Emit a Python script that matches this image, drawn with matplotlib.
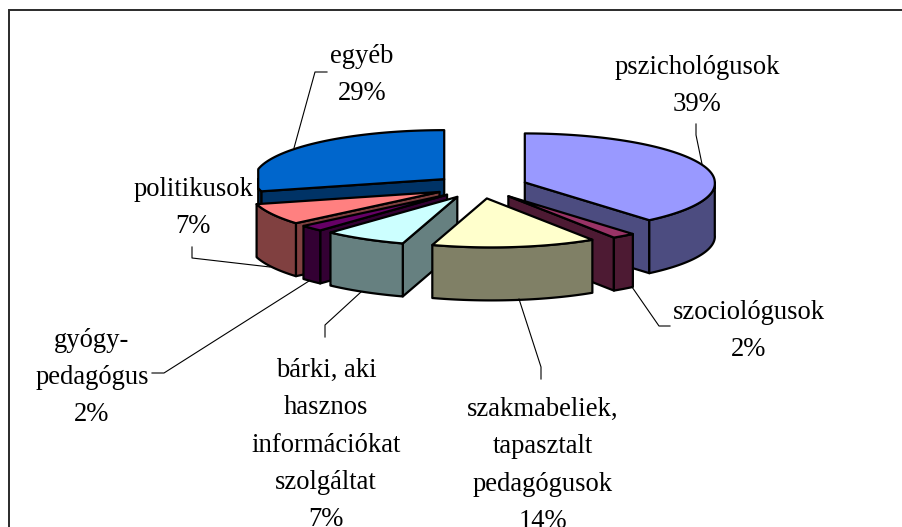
import numpy as np
import matplotlib
matplotlib.use("Agg")
import matplotlib.pyplot as plt
from matplotlib.patches import Polygon

plt.rcParams["font.family"] = ["Liberation Serif", "DejaVu Serif"]

# data, clockwise from the top
categories = ["pszichológusok", "szociológusok", "szakmabeliek,\ntapasztalt\npedagógusok",
              "bárki, aki\nhasznos\ninformációkat\nszolgáltat", "gyógy-\npedagógus",
              "politikusok", "egyéb"]
values = [39, 2, 14, 7, 2, 7, 29]
top_colors = ["#9999FF", "#993366", "#FFFFCC", "#CCFFFF", "#660066", "#FF8080", "#0066CC"]
side_colors = ["#4C4C80", "#4D1A33", "#808066", "#668080", "#330033", "#804040", "#003366"]

# pie geometry, in pixels of the picture
cx, cy = 481, 186.5
a, b = 190, 49
depth = 53
explode = 0.245
skew = 0.09
left_limit = 186
draw_order = [6, 5, 4, 3, 0, 1, 2]

# where the labels sit and how their leaders run
label_xy = [(697, 86), (749, 331), (543, 465.5), (326, 445), (92, 377.5), (193, 208), (362, 75)]
leaders = [
    [(696, 124), (696, 135), (702, 164)],
    [(632, 287), (659, 326), (670, 326)],
    [(519, 299), (541, 367), (541, 379)],
    [(325, 337), (325, 325), (361, 292)],
    [(152, 373), (164, 373), (309, 281)],
    [(192, 247), (192, 258), (270, 267)],
    [(327, 72), (315, 72), (294, 148)],
]

fig = plt.figure(figsize=(9.02, 5.27), dpi=100)
ax = fig.add_axes([0, 0, 1, 1])
ax.set_xlim(0, 902)
ax.set_ylim(527, 0)
ax.axis("off")

# frame, no right or bottom side in the crop
ax.plot([9, 9, 902], [527, 10, 10], color="#2a2a2a", lw=1.4, solid_joinstyle="miter")

edges = np.cumsum([0] + values) / sum(values) * 360


def rim(ox, oy, t):
    t = np.radians(np.atleast_1d(t))
    dy = -b * np.cos(t)
    # the front of the old chart leans a bit to the right, its left side is cut flat
    dx = a * np.sin(t) + skew * np.maximum(dy, 0)
    return np.column_stack([ox + np.maximum(dx, -left_limit), oy + dy])


def poly(pts, color):
    ax.add_patch(Polygon(pts, closed=True, facecolor=color, edgecolor="black",
                         lw=1.6, joinstyle="round"))


def face_shows(ox, oy, t, t_mid):
    # a cut face is seen only when the slice lies above it on the screen
    if abs(np.sin(np.radians(t))) < 1e-6:
        return False
    end = rim(ox, oy, t)[0]
    m = rim(ox, oy, t_mid)[0]
    line_y = oy + (end[1] - oy) * (m[0] - ox) / (end[0] - ox)
    return m[1] < line_y


for i in draw_order:
    t0, t1 = edges[i], edges[i + 1]
    t_mid = (t0 + t1) / 2
    ox = cx + explode * a * np.sin(np.radians(t_mid))
    oy = cy - explode * b * np.cos(np.radians(t_mid))
    down = np.array([0, depth])
    apex = np.array([[ox, oy]])

    for t in (t0, t1):
        if face_shows(ox, oy, t, t_mid):
            edge = np.vstack([apex, rim(ox, oy, t)])
            poly(np.vstack([edge, edge[::-1] + down]), side_colors[i])

    w0, w1 = max(t0, 90), min(t1, 270)
    if w1 > w0:
        arc = rim(ox, oy, np.linspace(w0, w1, 60))
        poly(np.vstack([arc, arc[::-1] + down]), side_colors[i])

    arc = rim(ox, oy, np.linspace(t0, t1, 120))
    poly(np.vstack([apex, arc]), top_colors[i])

for pts in leaders:
    xs, ys = zip(*pts)
    ax.plot(xs, ys, color="black", lw=0.8)

for cat, val, (x, y) in zip(categories, values, label_xy):
    ax.text(x, y, f"{cat}\n{val}%", ha="center", va="center", multialignment="center",
            fontsize=19.2, linespacing=1.64, color="black")

fig.savefig("out.png", dpi=100)
